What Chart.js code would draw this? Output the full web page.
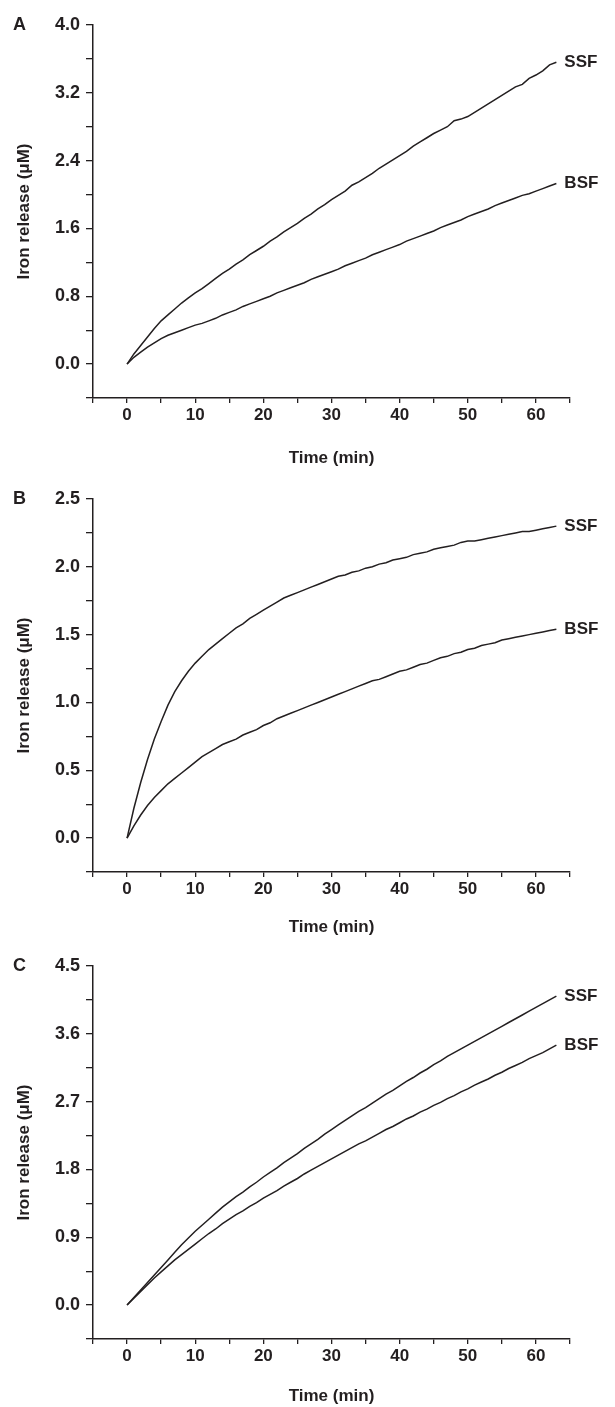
<!DOCTYPE html>
<html>
<head>
<meta charset="utf-8">
<script src="https://cdn.jsdelivr.net/npm/chart.js@4/dist/chart.umd.min.js"></script>
<style>
  body { margin: 0; background: #fff; }
  .panel { position: absolute; left: 0; }
</style>
</head>
<body>
<canvas id="chartA" class="panel" width="615" height="469" style="top:0"></canvas>
<canvas id="chartB" class="panel" width="615" height="469" style="top:469px"></canvas>
<canvas id="chartC" class="panel" width="615" height="469" style="top:938px"></canvas>
<script>
// time points (min), shared by all curves
const time = [];
for (let t = 0; t <= 63; t++) time.push(t);

// panel A
const ssfA = [0.00, 0.12, 0.22, 0.32, 0.42, 0.51, 0.58, 0.65, 0.72, 0.78, 0.84, 0.89, 0.95, 1.01, 1.07, 1.12,
  1.18, 1.23, 1.29, 1.34, 1.39, 1.45, 1.50, 1.56, 1.61, 1.66, 1.72, 1.77, 1.83, 1.88, 1.94, 1.99,
  2.04, 2.11, 2.15, 2.20, 2.25, 2.31, 2.36, 2.41, 2.46, 2.51, 2.57, 2.62, 2.67, 2.72, 2.76, 2.80,
  2.87, 2.89, 2.92, 2.97, 3.02, 3.07, 3.12, 3.17, 3.22, 3.27, 3.30, 3.37, 3.41, 3.46, 3.53, 3.56];
const bsfA = [0.00, 0.08, 0.14, 0.20, 0.25, 0.30, 0.34, 0.37, 0.40, 0.43, 0.46, 0.48, 0.51, 0.54, 0.58, 0.61,
  0.64, 0.68, 0.71, 0.74, 0.77, 0.80, 0.84, 0.87, 0.90, 0.93, 0.96, 1.00, 1.03, 1.06, 1.09, 1.12,
  1.16, 1.19, 1.22, 1.25, 1.29, 1.32, 1.35, 1.38, 1.41, 1.45, 1.48, 1.51, 1.54, 1.57, 1.61, 1.64,
  1.67, 1.70, 1.74, 1.77, 1.80, 1.83, 1.87, 1.90, 1.93, 1.96, 1.99, 2.01, 2.04, 2.07, 2.10, 2.13];

// panel B
const ssfB = [0.00, 0.22, 0.41, 0.58, 0.73, 0.86, 0.98, 1.08, 1.16, 1.23, 1.29, 1.34, 1.39, 1.43, 1.47, 1.51,
  1.55, 1.58, 1.62, 1.65, 1.68, 1.71, 1.74, 1.77, 1.79, 1.81, 1.83, 1.85, 1.87, 1.89, 1.91, 1.93,
  1.94, 1.96, 1.97, 1.99, 2.00, 2.02, 2.03, 2.05, 2.06, 2.07, 2.09, 2.10, 2.11, 2.13, 2.14, 2.15,
  2.16, 2.18, 2.19, 2.19, 2.20, 2.21, 2.22, 2.23, 2.24, 2.25, 2.26, 2.26, 2.27, 2.28, 2.29, 2.30];
const bsfB = [0.00, 0.09, 0.17, 0.24, 0.30, 0.35, 0.40, 0.44, 0.48, 0.52, 0.56, 0.60, 0.63, 0.66, 0.69, 0.71,
  0.73, 0.76, 0.78, 0.80, 0.83, 0.85, 0.88, 0.90, 0.92, 0.94, 0.96, 0.98, 1.00, 1.02, 1.04, 1.06,
  1.08, 1.10, 1.12, 1.14, 1.16, 1.17, 1.19, 1.21, 1.23, 1.24, 1.26, 1.28, 1.29, 1.31, 1.33, 1.34,
  1.36, 1.37, 1.39, 1.40, 1.42, 1.43, 1.44, 1.46, 1.47, 1.48, 1.49, 1.50, 1.51, 1.52, 1.53, 1.54];

// panel C
const ssfC = [0.00, 0.10, 0.20, 0.30, 0.40, 0.50, 0.60, 0.70, 0.80, 0.89, 0.98, 1.06, 1.14, 1.22, 1.30, 1.37,
  1.44, 1.50, 1.57, 1.63, 1.70, 1.76, 1.82, 1.89, 1.95, 2.01, 2.08, 2.14, 2.20, 2.27, 2.33, 2.39,
  2.45, 2.51, 2.57, 2.62, 2.68, 2.74, 2.80, 2.85, 2.91, 2.97, 3.02, 3.08, 3.13, 3.19, 3.24, 3.30,
  3.35, 3.40, 3.45, 3.50, 3.55, 3.60, 3.65, 3.70, 3.75, 3.80, 3.85, 3.90, 3.95, 4.00, 4.05, 4.10];
const bsfC = [0.00, 0.09, 0.18, 0.27, 0.36, 0.44, 0.52, 0.60, 0.67, 0.74, 0.81, 0.88, 0.95, 1.01, 1.08, 1.14,
  1.20, 1.25, 1.31, 1.36, 1.42, 1.47, 1.52, 1.58, 1.63, 1.68, 1.74, 1.79, 1.84, 1.89, 1.94, 1.99,
  2.04, 2.09, 2.14, 2.18, 2.23, 2.28, 2.33, 2.37, 2.42, 2.47, 2.51, 2.56, 2.60, 2.65, 2.69, 2.74,
  2.78, 2.83, 2.87, 2.92, 2.96, 3.00, 3.05, 3.09, 3.14, 3.18, 3.22, 3.27, 3.31, 3.35, 3.40, 3.45];

// axis ticks
const xTicks = [-5, 0, 5, 10, 15, 20, 25, 30, 35, 40, 45, 50, 55, 60, 65];
const xLabels = [0, 10, 20, 30, 40, 50, 60];
const yTicksA = [-0.4, 0, 0.4, 0.8, 1.2, 1.6, 2.0, 2.4, 2.8, 3.2, 3.6, 4.0];
const yLabelsA = [0, 0.8, 1.6, 2.4, 3.2, 4.0];
const yTicksB = [-0.25, 0, 0.25, 0.5, 0.75, 1.0, 1.25, 1.5, 1.75, 2.0, 2.25, 2.5];
const yLabelsB = [0, 0.5, 1.0, 1.5, 2.0, 2.5];
const yTicksC = [-0.45, 0, 0.45, 0.9, 1.35, 1.8, 2.25, 2.7, 3.15, 3.6, 4.05, 4.5];
const yLabelsC = [0, 0.9, 1.8, 2.7, 3.6, 4.5];

const INK = '#231f20';
const FONT = 'Liberation Sans, Arial, Helvetica, sans-serif';
const PLOT_H = 373;

const endLabels = {
  id: 'endLabels',
  afterDatasetsDraw(chart, args, opts) {
    const ctx = chart.ctx;
    ctx.save();
    ctx.fillStyle = INK;
    ctx.font = 'bold 17px ' + FONT;
    ctx.textBaseline = 'middle';
    chart.data.datasets.forEach((ds, i) => {
      const pts = chart.getDatasetMeta(i).data;
      const last = pts[pts.length - 1];
      ctx.textAlign = 'left';
      ctx.fillText(ds.label, last.x + 8, last.y);
    });
    const y = chart.scales.y;
    ctx.font = 'bold 18px ' + FONT;
    ctx.fillText(opts.letter, 13, y.getPixelForValue(y.max));
    ctx.restore();
  }
};

function toPoints(ys) {
  return time.map((t, i) => ({ x: t, y: ys[i] }));
}

function near(v, list) {
  return list.some(l => Math.abs(l - v) < 1e-6);
}

function makePanel(id, letter, ssf, bsf, yTicks, yLabels, padTop) {
  const ctx = document.getElementById(id).getContext('2d');
  return new Chart(ctx, {
    type: 'line',
    data: {
      datasets: [
        { label: 'SSF', data: toPoints(ssf), borderColor: INK, borderWidth: 1.5, pointRadius: 0, tension: 0, fill: false },
        { label: 'BSF', data: toPoints(bsf), borderColor: INK, borderWidth: 1.5, pointRadius: 0, tension: 0, fill: false }
      ]
    },
    options: {
      responsive: false,
      animation: false,
      devicePixelRatio: 1,
      layout: { padding: { top: padTop, right: 45, left: 0, bottom: 0 } },
      plugins: {
        legend: { display: false },
        tooltip: { enabled: false },
        endLabels: { letter: letter }
      },
      scales: {
        x: {
          type: 'linear',
          min: xTicks[0],
          max: xTicks[xTicks.length - 1],
          afterBuildTicks: s => { s.ticks = xTicks.map(v => ({ value: v })); },
          afterFit: s => { s.height = 469 - padTop - PLOT_H; },
          border: { display: true, color: INK, width: 1.5 },
          grid: { display: true, drawOnChartArea: false, drawTicks: true, tickLength: 5, color: INK, lineWidth: 1.3 },
          ticks: {
            autoSkip: false, maxRotation: 0, padding: 2, color: INK,
            font: { family: FONT, size: 17, weight: 'bold' },
            callback: v => near(v, xLabels) ? String(Math.round(v)) : ''
          },
          title: {
            display: true, text: 'Time (min)', color: INK, padding: { top: 0, bottom: 0 },
            font: { family: FONT, size: 17, weight: 'bold' }
          }
        },
        y: {
          type: 'linear',
          min: yTicks[0],
          max: yTicks[yTicks.length - 1],
          afterBuildTicks: s => { s.ticks = yTicks.map(v => ({ value: v })); },
          afterFit: s => { s.width = 93; },
          border: { display: true, color: INK, width: 1.5 },
          grid: { display: true, drawOnChartArea: false, drawTicks: true, tickLength: 7, color: INK, lineWidth: 1.3 },
          ticks: {
            autoSkip: false, padding: 6, color: INK,
            font: { family: FONT, size: 18, weight: 'bold' },
            callback: v => near(v, yLabels) ? v.toFixed(1) : ''
          },
          title: {
            display: true, text: 'Iron release (\u03bcM)', color: INK, padding: { top: 14, bottom: 0 },
            font: { family: FONT, size: 17, weight: 'bold' }
          }
        }
      }
    },
    plugins: [endLabels]
  });
}

makePanel('chartA', 'A', ssfA, bsfA, yTicksA, yLabelsA, 25);
makePanel('chartB', 'B', ssfB, bsfB, yTicksB, yLabelsB, 30);
makePanel('chartC', 'C', ssfC, bsfC, yTicksC, yLabelsC, 28);
</script>
</body>
</html>
